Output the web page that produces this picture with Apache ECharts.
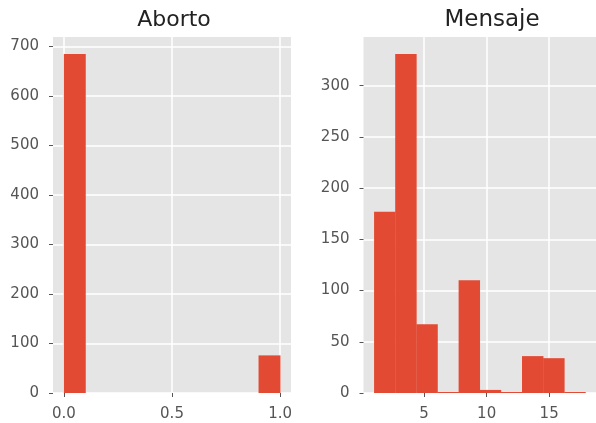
<!DOCTYPE html>
<html>
<head>
<meta charset="utf-8">
<script src="https://cdn.jsdelivr.net/npm/echarts@6/dist/echarts.min.js"></script>
<style>
  html, body { margin: 0; padding: 0; background: #ffffff; }
  #chart { width: 596px; height: 423px; }
</style>
</head>
<body>
<div id="chart"></div>
<script>
// Histogram of "Aborto" (10 bins over 0..1)
const abortoEdges = [0, 0.1, 0.2, 0.3, 0.4, 0.5, 0.6, 0.7, 0.8, 0.9, 1.0];
const abortoCounts = [685, 0, 0, 0, 0, 0, 0, 0, 0, 76];
const abortoXTicks = [0, 0.5, 1.0];
const abortoYTicks = [0, 100, 200, 300, 400, 500, 600, 700];

// Histogram of "Mensaje" (10 bins over 1..17.9)
const mensajeEdges = [1, 2.69, 4.38, 6.07, 7.76, 9.45, 11.14, 12.83, 14.52, 16.21, 17.9];
const mensajeCounts = [177, 331, 67, 1, 110, 3, 1, 36, 34, 1];
const mensajeXTicks = [5, 10, 15];
const mensajeYTicks = [0, 50, 100, 150, 200, 250, 300];

const BAR = '#E24A33';
const FONT = 'DejaVu Sans';

function binsOf(edges, counts) {
  return counts.map((c, i) => [edges[i], edges[i + 1], c]);
}

function paddedRange(lo, hi) {
  const pad = (hi - lo) * 0.05;
  return [lo - pad, hi + pad];
}

function histItem(params, api) {
  const h = api.value(2);
  if (!h) return null;
  const p0 = api.coord([api.value(0), 0]);
  const p1 = api.coord([api.value(1), h]);
  return {
    type: 'rect',
    shape: { x: p0[0], y: p1[1], width: p1[0] - p0[0] + 0.3, height: p0[1] - p1[1] },
    style: { fill: BAR }
  };
}

function xAxisFor(gridIndex, edges, ticks, fmt) {
  const r = paddedRange(edges[0], edges[edges.length - 1]);
  return {
    type: 'value', gridIndex, min: r[0], max: r[1],
    axisLine: { show: false, onZero: false },
    axisTick: { show: true, inside: false, length: 4, customValues: ticks, lineStyle: { color: '#555', width: 1 } },
    axisLabel: { customValues: ticks, margin: 14, color: '#555', fontSize: 15, fontFamily: FONT, formatter: fmt },
    splitLine: { show: true, lineStyle: { color: '#ffffff', width: 1.5 } }
  };
}

function yAxisFor(gridIndex, counts, ticks) {
  return {
    type: 'value', gridIndex, min: 0, max: Math.max(...counts) * 1.05,
    axisLine: { show: false, onZero: false },
    axisTick: { show: true, inside: false, length: 4, customValues: ticks, lineStyle: { color: '#555', width: 1 } },
    axisLabel: { customValues: ticks, margin: 14, color: '#555', fontSize: 15, fontFamily: FONT },
    splitLine: { show: true, lineStyle: { color: '#ffffff', width: 1.5 } }
  };
}

const chart = echarts.init(document.getElementById('chart'), null, { renderer: 'canvas' });

chart.setOption({
  backgroundColor: '#ffffff',
  animation: false,
  title: [
    { text: 'Aborto', left: 169, top: 4, textAlign: 'center',
      textStyle: { fontFamily: FONT, fontSize: 22, fontWeight: 'normal', color: '#222' } },
    { text: 'Mensaje', left: 487, top: 4, textAlign: 'center',
      textStyle: { fontFamily: FONT, fontSize: 23, fontWeight: 'normal', color: '#222' } }
  ],
  grid: [
    { left: 53, top: 37, width: 238, bottom: 30, backgroundColor: '#E5E5E5', show: true, borderWidth: 0 },
    { left: 363.5, top: 37, width: 238.5, bottom: 30, backgroundColor: '#E5E5E5', show: true, borderWidth: 0 }
  ],
  xAxis: [
    xAxisFor(0, abortoEdges, abortoXTicks, v => v.toFixed(1)),
    xAxisFor(1, mensajeEdges, mensajeXTicks, v => String(v))
  ],
  yAxis: [
    yAxisFor(0, abortoCounts, abortoYTicks),
    yAxisFor(1, mensajeCounts, mensajeYTicks)
  ],
  series: [
    { type: 'custom', xAxisIndex: 0, yAxisIndex: 0, renderItem: histItem,
      encode: { x: [0, 1], y: 2 }, data: binsOf(abortoEdges, abortoCounts) },
    { type: 'custom', xAxisIndex: 1, yAxisIndex: 1, renderItem: histItem,
      encode: { x: [0, 1], y: 2 }, data: binsOf(mensajeEdges, mensajeCounts) }
  ]
});
</script>
</body>
</html>
